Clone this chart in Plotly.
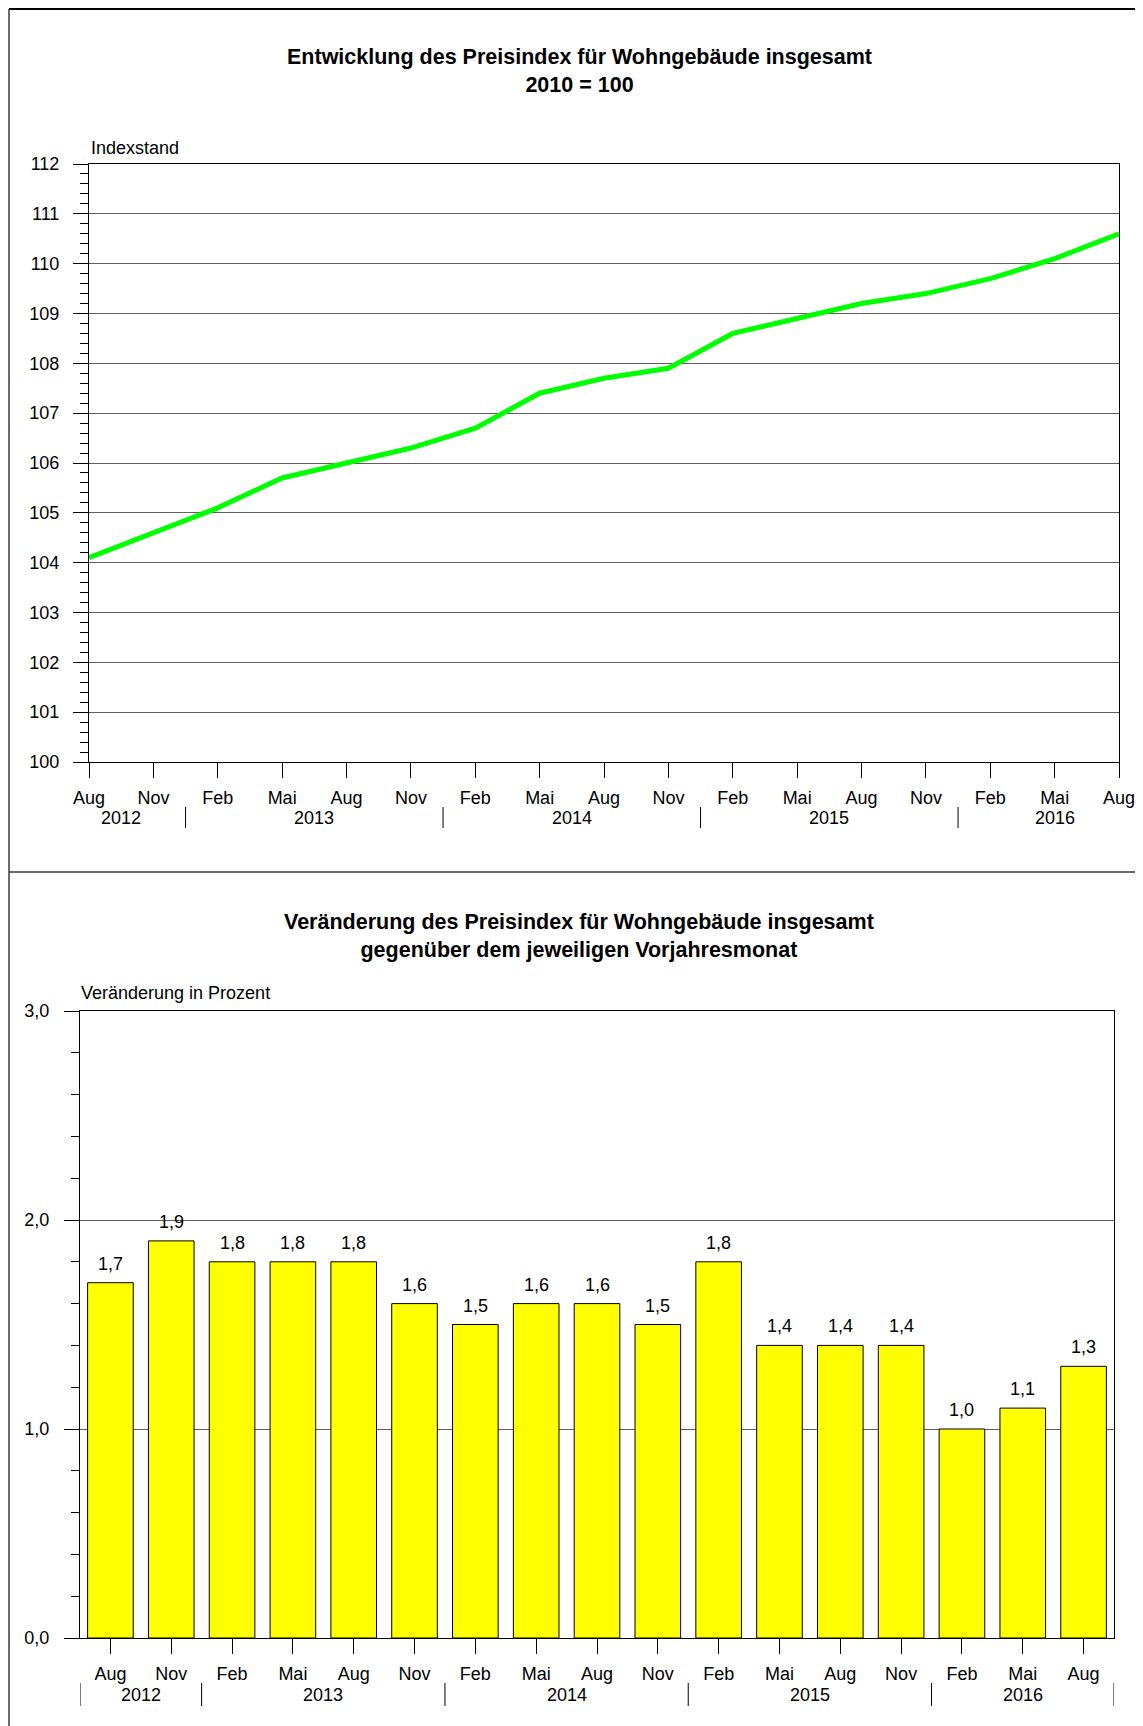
import plotly.graph_objects as go

W, H = 1143, 1726
OX, OY = 8, 8  # page body margin in the browser

# ---- data ----
months = ["Aug", "Nov", "Feb", "Mai", "Aug", "Nov", "Feb", "Mai", "Aug",
          "Nov", "Feb", "Mai", "Aug", "Nov", "Feb", "Mai", "Aug"]
years = [2012, 2012, 2013, 2013, 2013, 2013, 2014, 2014, 2014,
         2014, 2015, 2015, 2015, 2015, 2016, 2016, 2016]
index_values = [104.1, 104.6, 105.1, 105.7, 106.0, 106.3, 106.7, 107.4, 107.7,
                107.9, 108.6, 108.9, 109.2, 109.4, 109.7, 110.1, 110.6]
change_values = [1.7, 1.9, 1.8, 1.8, 1.8, 1.6, 1.5, 1.6, 1.6,
                 1.5, 1.8, 1.4, 1.4, 1.4, 1.0, 1.1, 1.3]
index_ticks = list(range(100, 113))
change_ticks = [0, 1, 2, 3]

title_top = "<b>Entwicklung des Preisindex für Wohngebäude insgesamt<br>2010 = 100</b>"
title_bottom = ("<b>Veränderung des Preisindex für Wohngebäude insgesamt<br>"
                "gegenüber dem jeweiligen Vorjahresmonat</b>")
ylabel_top = "Indexstand"
ylabel_bottom = "Veränderung in Prozent"

FONT = "Liberation Sans, Arial, sans-serif"
pos = list(range(len(months)))


def px(x):
    return (x - OX) / W


def py(y):
    return 1 - (y - OY) / H


fig = go.Figure()

fig.add_trace(go.Scatter(
    x=pos, y=index_values, mode="lines",
    line=dict(color="#00FF00", width=5),
    xaxis="x", yaxis="y", showlegend=False, hoverinfo="skip"))

fig.add_trace(go.Bar(
    x=pos, y=change_values, width=0.75,
    marker=dict(color="#FFFF00", line=dict(color="black", width=1)),
    xaxis="x2", yaxis="y2", showlegend=False, hoverinfo="skip"))

grid_col = "#5f5f5f"
tickfont = dict(family=FONT, size=18, color="black")

common_axis = dict(ticks="outside", ticklen=15, tickcolor="black", tickwidth=1,
                   showline=True, linecolor="black", linewidth=1, mirror=True,
                   zeroline=False, tickfont=tickfont, automargin=False)

fig.update_layout(
    template="none",
    width=W, height=H,
    margin=dict(l=0, r=0, t=0, b=0, autoexpand=False),
    paper_bgcolor="white", plot_bgcolor="white",
    separators=",.",
    showlegend=False,
    font=dict(family=FONT, size=18, color="black"),
    xaxis=dict(
        domain=[px(89), px(1119)], anchor="y", range=[0, 16],
        tickmode="array", tickvals=pos, ticktext=months,
        ticklabelstandoff=4, showgrid=False, **common_axis),
    yaxis=dict(
        domain=[py(762), py(164)], anchor="x", range=[100, 112],
        tickmode="array", tickvals=index_ticks, ticklabelstandoff=10,
        minor=dict(dtick=0.2, tick0=100, ticks="outside", ticklen=8,
                   tickcolor="black", tickwidth=1, showgrid=False),
        showgrid=True, gridcolor=grid_col, gridwidth=1.2, **common_axis),
    xaxis2=dict(
        domain=[px(80), px(1114)], anchor="y2", range=[-0.5, len(pos) - 0.5],
        tickmode="array", tickvals=pos, ticktext=months,
        ticklabelstandoff=4, showgrid=False, **common_axis),
    yaxis2=dict(
        domain=[py(1638), py(1011)], anchor="x2", range=[0, 3],
        tickmode="array", tickvals=change_ticks, tickformat=".1f",
        ticklabelstandoff=11,
        minor=dict(dtick=0.2, tick0=0, ticks="outside", ticklen=8,
                   tickcolor="black", tickwidth=1, showgrid=False),
        showgrid=True, gridcolor=grid_col, gridwidth=1.2, **common_axis),
)

annotations = []
shapes = []

# titles
annotations.append(dict(text=title_top, xref="paper", yref="paper",
                        x=px(579), y=py(70.5), xanchor="center", yanchor="middle",
                        showarrow=False, font=dict(family=FONT, size=21.5, color="black")))
annotations.append(dict(text=title_bottom, xref="paper", yref="paper",
                        x=px(579), y=py(936), xanchor="center", yanchor="middle",
                        showarrow=False, font=dict(family=FONT, size=21.5, color="black")))
# axis labels
annotations.append(dict(text=ylabel_top, xref="paper", yref="paper",
                        x=px(89), y=py(148), xanchor="left", yanchor="middle",
                        showarrow=False, font=dict(family=FONT, size=18, color="black")))
annotations.append(dict(text=ylabel_bottom, xref="paper", yref="paper",
                        x=px(79), y=py(993), xanchor="left", yanchor="middle",
                        showarrow=False, font=dict(family=FONT, size=18, color="black")))

# year labels and separators
uniq_years = []
for y in years:
    if y not in uniq_years:
        uniq_years.append(y)

for xr, ylab, ysep0, ysep1, edges in (("x", 818, 807, 828, False),
                                       ("x2", 1695, 1683, 1706, True)):
    for yr in uniq_years:
        idx = [i for i, v in enumerate(years) if v == yr]
        annotations.append(dict(text=str(yr), xref=xr, yref="paper",
                                x=sum(idx) / len(idx), y=py(ylab),
                                xanchor="center", yanchor="middle", showarrow=False,
                                font=dict(family=FONT, size=18, color="black")))
    bounds = [i - 0.5 for i in range(1, len(years)) if years[i] != years[i - 1]]
    if edges:
        bounds = [-0.5] + bounds + [len(years) - 0.5]
    for b in bounds:
        shapes.append(dict(type="line", xref=xr, yref="paper",
                           x0=b, x1=b, y0=py(ysep0), y1=py(ysep1),
                           line=dict(color="black", width=1)))

# bar value labels
for i, v in zip(pos, change_values):
    annotations.append(dict(text=f"{v:.1f}".replace(".", ","), xref="x2", yref="y2",
                            x=i, y=v, xanchor="center", yanchor="bottom",
                            yshift=7, showarrow=False,
                            font=dict(family=FONT, size=18, color="black")))

# outer frame
frame_col = "#3a3a3a"
shapes.append(dict(type="line", xref="paper", yref="paper",
                   x0=px(9), x1=1, y0=py(9), y1=py(9),
                   line=dict(color="black", width=2)))
shapes.append(dict(type="line", xref="paper", yref="paper",
                   x0=px(9), x1=px(9), y0=py(9), y1=0,
                   line=dict(color=frame_col, width=1.5)))
shapes.append(dict(type="line", xref="paper", yref="paper",
                   x0=px(9), x1=1, y0=py(872), y1=py(872),
                   line=dict(color=frame_col, width=1.5)))

fig.update_layout(annotations=annotations, shapes=shapes)

fig.write_html("out.html")
